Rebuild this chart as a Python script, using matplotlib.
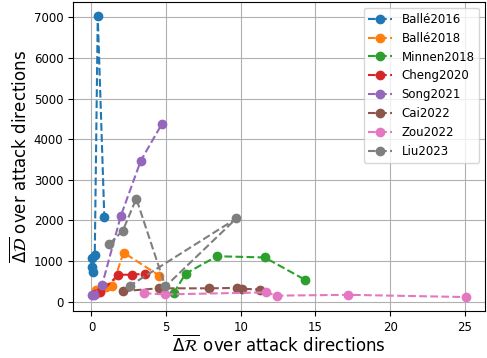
import matplotlib
matplotlib.use("Agg")
import matplotlib.pyplot as plt

# mean delta R / delta D per model
balle2016_r = [0.13, 0.02, 0.05, 0.22, 0.42, 0.86]
balle2016_d = [720, 850, 1075, 1155, 7030, 2080]

balle2018_r = [0.3, 1.0, 1.4, 2.15, 4.55]
balle2018_d = [280, 360, 390, 1210, 640]

minnen2018_r = [5.5, 6.3, 8.4, 11.6, 14.3]
minnen2018_d = [210, 690, 1120, 1090, 540]

cheng2020_r = [0.25, 0.6, 1.8, 2.7, 3.6]
cheng2020_d = [190, 230, 665, 665, 690]

song2021_r = [0.05, 0.15, 0.7, 1.97, 3.3, 4.72]
song2021_d = [160, 165, 400, 2120, 3470, 4380]

cai2022_r = [2.1, 4.5, 7.9, 9.75, 10.05, 11.3]
cai2022_d = [260, 330, 330, 340, 320, 300]

zou2022_r = [3.5, 4.9, 11.7, 12.4, 17.2, 25.1]
zou2022_d = [210, 180, 230, 150, 170, 115]

liu2023_r = [1.2, 2.1, 3.0, 4.95, 9.7, 2.55]
liu2023_d = [1425, 1750, 2540, 375, 2050, 390]

series = [
    ("Ballé2016", balle2016_r, balle2016_d),
    ("Ballé2018", balle2018_r, balle2018_d),
    ("Minnen2018", minnen2018_r, minnen2018_d),
    ("Cheng2020", cheng2020_r, cheng2020_d),
    ("Song2021", song2021_r, song2021_d),
    ("Cai2022", cai2022_r, cai2022_d),
    ("Zou2022", zou2022_r, zou2022_d),
    ("Liu2023", liu2023_r, liu2023_d),
]

fig = plt.figure(figsize=(4.87, 3.58), dpi=100)
ax = fig.add_axes([0.150, 0.131, 0.846, 0.863])

for name, r, d in series:
    ax.plot(r, d, "--o", label=name)

ax.set_xticks([0, 5, 10, 15, 20, 25])
ax.set_yticks(range(0, 7001, 1000))
ax.tick_params(labelsize=8.5)
ax.grid(True)
ax.set_xlabel(r"$\overline{\Delta\mathcal{R}}$ over attack directions", fontsize=12, labelpad=1)
ax.set_ylabel(r"$\overline{\Delta\mathcal{D}}$ over attack directions", fontsize=12, labelpad=2)
ax.legend(loc="upper right", fontsize=8.5)

fig.savefig("out.png", dpi=100)
